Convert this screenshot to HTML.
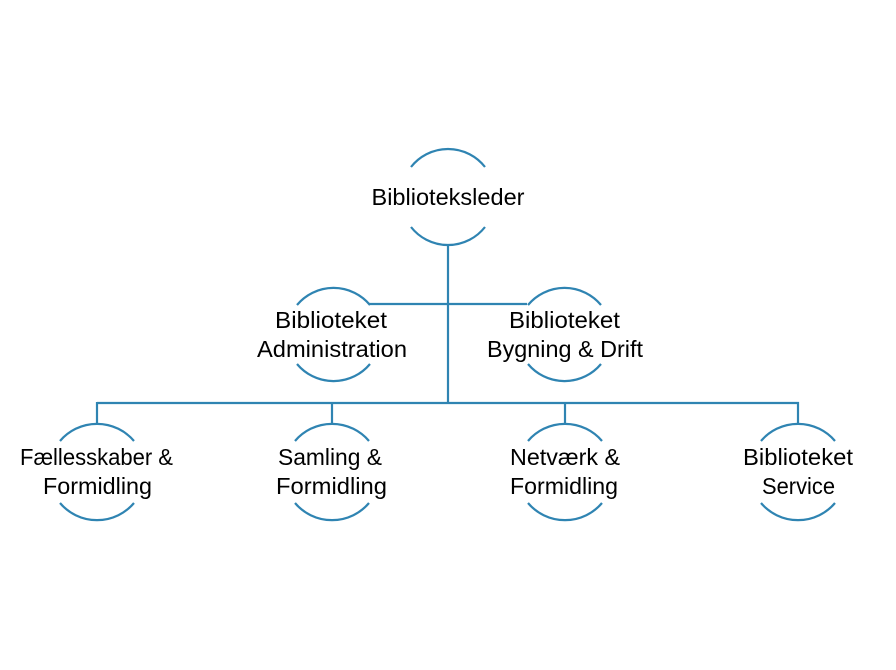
<!DOCTYPE html>
<html><head><meta charset="utf-8"><style>
html,body{margin:0;padding:0;background:#fff;}
svg{display:block;}
text{font-family:"Liberation Sans",sans-serif;font-size:23px;fill:#000;text-anchor:middle;}
</style></head><body>
<svg width="896" height="670" viewBox="0 0 896 670" xmlns="http://www.w3.org/2000/svg">
<g fill="none" stroke="#2f84b2" stroke-width="2.2">
<!-- connectors -->
<line x1="448" y1="244" x2="448" y2="404"/>
<line x1="369" y1="304" x2="527" y2="304"/>
<line x1="97" y1="403" x2="799" y2="403"/>
<line x1="97" y1="402" x2="97" y2="424"/>
<line x1="332" y1="402" x2="332" y2="424"/>
<line x1="565" y1="402" x2="565" y2="424"/>
<line x1="798" y1="402" x2="798" y2="424"/>
<!-- level 1 -->
<path d="M411 167 A47 47 0 0 1 485 167"/>
<path d="M411 227 A47 47 0 0 0 485 227"/>
<!-- level 2 -->
<path d="M297 305 A47.5 47.5 0 0 1 370 305"/>
<path d="M297 364 A47.5 47.5 0 0 0 370 364"/>
<path d="M528 305 A47.5 47.5 0 0 1 601 305"/>
<path d="M528 364 A47.5 47.5 0 0 0 601 364"/>
<!-- level 3 -->
<path d="M60 441 A48.5 48.5 0 0 1 134 441"/>
<path d="M60 503 A48.5 48.5 0 0 0 134 503"/>
<path d="M295 441 A48.5 48.5 0 0 1 369 441"/>
<path d="M295 503 A48.5 48.5 0 0 0 369 503"/>
<path d="M528 441 A48.5 48.5 0 0 1 602 441"/>
<path d="M528 503 A48.5 48.5 0 0 0 602 503"/>
<path d="M761 441 A48.5 48.5 0 0 1 835 441"/>
<path d="M761 503 A48.5 48.5 0 0 0 835 503"/>
</g>
<text x="448" y="205" textLength="153" lengthAdjust="spacingAndGlyphs">Biblioteksleder</text>
<text x="331" y="328" textLength="112" lengthAdjust="spacingAndGlyphs">Biblioteket</text>
<text x="332" y="357" textLength="150" lengthAdjust="spacingAndGlyphs">Administration</text>
<text x="564.5" y="328" textLength="111" lengthAdjust="spacingAndGlyphs">Biblioteket</text>
<text x="565" y="357" textLength="156" lengthAdjust="spacingAndGlyphs">Bygning &amp; Drift</text>
<text x="96.5" y="465" textLength="153" lengthAdjust="spacingAndGlyphs">Fællesskaber &amp;</text>
<text x="97.5" y="494" textLength="109" lengthAdjust="spacingAndGlyphs">Formidling</text>
<text x="330" y="465" textLength="104" lengthAdjust="spacingAndGlyphs">Samling &amp;</text>
<text x="331.5" y="494" textLength="111" lengthAdjust="spacingAndGlyphs">Formidling</text>
<text x="565" y="465" textLength="110" lengthAdjust="spacingAndGlyphs">Netværk &amp;</text>
<text x="564" y="494" textLength="108" lengthAdjust="spacingAndGlyphs">Formidling</text>
<text x="798" y="465" textLength="110" lengthAdjust="spacingAndGlyphs">Biblioteket</text>
<text x="798.5" y="494" textLength="73" lengthAdjust="spacingAndGlyphs">Service</text>
</svg>
</body></html>
